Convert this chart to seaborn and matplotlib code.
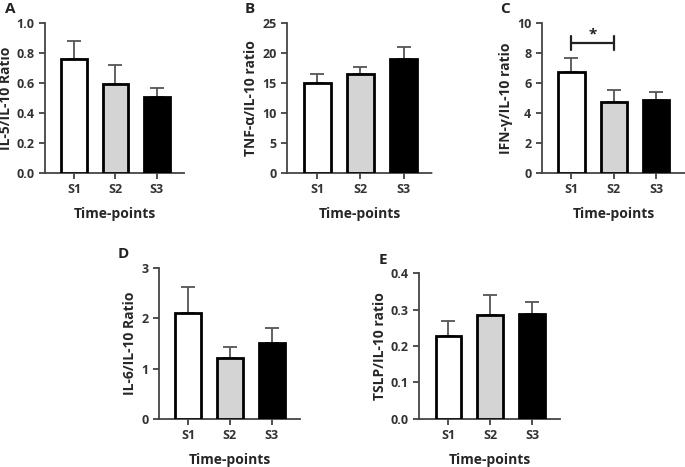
import numpy as np
import pandas as pd
import matplotlib
matplotlib.use("Agg")
import matplotlib.pyplot as plt
import seaborn as sns

sns.set_style("ticks")
plt.rcParams["font.family"] = ["Open Sans", "DejaVu Sans"]
plt.rcParams["font.weight"] = "bold"

# datos
groups = ["S1", "S2", "S3"]
il5 = [0.76, 0.595, 0.505]
il5_err = [0.12, 0.125, 0.06]
tnf = [15.0, 16.4, 19.0]
tnf_err = [1.5, 1.3, 1.9]
ifn = [6.75, 4.75, 4.85]
ifn_err = [0.9, 0.8, 0.55]
il6 = [2.1, 1.22, 1.5]
il6_err = [0.52, 0.21, 0.3]
tslp = [0.228, 0.285, 0.288]
tslp_err = [0.042, 0.055, 0.033]

colores = ["#ffffff", "#d4d4d4", "#000000"]

paneles = [
    ("A", il5, il5_err, "IL-5/IL-10 Ratio", 1.0, np.arange(0, 1.01, 0.2), "{:.1f}",
     [0.066, 0.630, 0.204, 0.321]),
    ("B", tnf, tnf_err, "TNF-\u03b1/IL-10 ratio", 25, np.arange(0, 26, 5), "{:.0f}",
     [0.419, 0.630, 0.213, 0.321]),
    ("C", ifn, ifn_err, "IFN-\u03b3/IL-10 ratio", 10, np.arange(0, 11, 2), "{:.0f}",
     [0.791, 0.630, 0.209, 0.321]),
    ("D", il6, il6_err, "IL-6/IL-10 Ratio", 3, np.arange(0, 4, 1), "{:.0f}",
     [0.232, 0.103, 0.206, 0.323]),
    ("E", tslp, tslp_err, "TSLP/IL-10 ratio", 0.4, np.arange(0, 0.41, 0.1), "{:.1f}",
     [0.612, 0.103, 0.206, 0.312]),
]

fig = plt.figure(figsize=(6.85, 4.67), dpi=100)

for letra, valores, err, ylab, ymax, yt, fmt, pos in paneles:
    ax = fig.add_axes(pos)
    df = pd.DataFrame({"grupo": groups, "valor": valores})
    sns.barplot(data=df, x="grupo", y="valor", hue="grupo", palette=colores,
                edgecolor="black", linewidth=2, width=0.62, errorbar=None,
                legend=False, ax=ax, zorder=3)
    ax.errorbar(np.arange(len(groups)), valores, yerr=[np.zeros(len(err)), err],
                fmt="none", ecolor="#555555", elinewidth=1.3, capsize=5,
                capthick=1.3, zorder=2)
    ax.set_xlim(-0.7, 2.68)
    ax.set_ylim(0, ymax)
    ax.set_yticks(yt)
    ax.set_yticklabels([fmt.format(v) for v in yt])
    ax.set_xlabel("Time-points", fontsize=10, fontweight="bold", labelpad=8)
    ax.set_ylabel(ylab, fontsize=10, fontweight="bold", labelpad=3)
    ax.tick_params(axis="both", labelsize=9, width=1.2, length=4, colors="#333333",
                   labelcolor="#333333")
    for lab in ax.get_xticklabels() + ax.get_yticklabels():
        lab.set_fontweight("bold")
    sns.despine(ax=ax)
    ax.spines["left"].set_color("#444444")
    ax.spines["left"].set_linewidth(1.3)
    ax.spines["bottom"].set_color("#444444")
    ax.spines["bottom"].set_linewidth(1.3)
    ax.spines["bottom"].set_linestyle((0, (2, 1)))
    ax.text(-0.29, 1.09, letra, transform=ax.transAxes, fontsize=11,
            fontweight="bold", color="#222222", va="center")

    if letra == "C":
        # barra de significancia S1 vs S2
        ax.plot([0, 1], [8.65, 8.65], color="#222222", lw=1.6, zorder=4)
        ax.plot([0, 0], [8.2, 9.1], color="#222222", lw=1.6, zorder=4)
        ax.plot([1, 1], [8.2, 9.1], color="#222222", lw=1.6, zorder=4)
        ax.text(0.5, 9.2, "*", ha="center", va="center", fontsize=11,
                fontweight="bold", color="#222222")

fig.savefig("out.png", dpi=100)
